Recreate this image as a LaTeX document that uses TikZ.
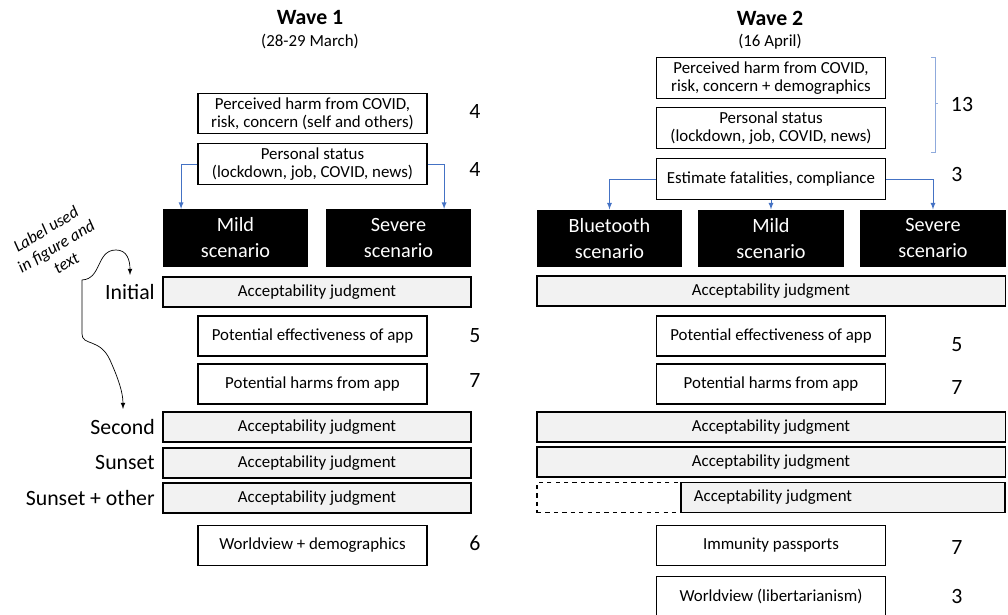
\documentclass[tikz,border=0pt]{standalone}
\usepackage{fontspec}
\setmainfont{Carlito}
\usepackage{xcolor}
\usepackage{tikz}
\usetikzlibrary{shapes, arrows, positioning, calc}
\definecolor{linkblue}{HTML}{4472C4}
\definecolor{bracketblue}{HTML}{8FAADC}
\definecolor{judgegray}{HTML}{F2F2F2}

\begin{document}
\begin{tikzpicture}[x=0.025cm, y=-0.025cm, font=\fontsize{12}{13}\selectfont]
    \tikzstyle{field}=[rectangle, draw, line width=0.8pt, minimum width=5.725cm, minimum height=1.02cm, align=center, inner sep=1pt]
    \tikzstyle{scen}=[rectangle, fill=black, text=white, minimum width=3.625cm, minimum height=1.44cm, align=center, inner sep=1pt, font=\fontsize{14.4}{18.5}\selectfont]
    \tikzstyle{judge}=[rectangle, draw, line width=0.8pt, fill=judgegray, minimum height=0.75cm, inner sep=0pt]
    \tikzstyle{num}=[font=\fontsize{15.5}{18}\selectfont]
    \tikzstyle{lbl}=[anchor=east, font=\fontsize{15.5}{18}\selectfont, inner sep=0pt]
    \tikzstyle{conn}=[draw=linkblue, line width=0.6pt, -latex]
    \useasboundingbox (0,0) rectangle (1008,615);

    % Wave 1
    \node[font=\fontsize{15.5}{18}\selectfont\bfseries] (w1title) at (310,18) {Wave 1};
    \node (w1date) at (310,42) {(28-29 March)};
    \node[field] (harm1) at (312.5,113.5) {Perceived harm from COVID,\\risk, concern (self and others)};
    \node[field] (status1) at (312.5,164) {Personal status\\(lockdown, job, COVID, news)};
    \node[scen] (mild1) at (235.5,238) {Mild\\scenario};
    \node[scen] (severe1) at (398.5,238) {Severe\\scenario};
    \node[judge, minimum width=7.7cm] (judge1a) at (317,292) {Acceptability judgment};
    \node[field, minimum height=1cm] (eff1) at (312.5,336) {Potential effectiveness of app};
    \node[field, minimum height=1cm] (harms1) at (312.5,384) {Potential harms from app};
    \node[judge, minimum width=7.7cm] (judge1b) at (317,427) {Acceptability judgment};
    \node[judge, minimum width=7.7cm] (judge1c) at (317,463) {Acceptability judgment};
    \node[judge, minimum width=7.7cm] (judge1d) at (317,498) {Acceptability judgment};
    \node[field] (world1) at (312.5,545.5) {Worldview + demographics};
    \node[num] (n1a) at (475,112) {4};
    \node[num] (n1b) at (475,170) {4};
    \node[num] (n1c) at (475,336) {5};
    \node[num] (n1d) at (475,381) {7};
    \node[num] (n1e) at (475,543) {6};
    \node[lbl] (initial) at (155,292) {Initial};
    \node[lbl] (second) at (155,427) {Second};
    \node[lbl] (sunset) at (155,463) {Sunset};
    \node[lbl] (sunsetother) at (155,498) {Sunset + other};
    \draw[conn] (status1.west) -| ([xshift=-1.36cm]mild1.north);
    \draw[conn] (status1.east) -| ([xshift=1.14cm]severe1.north);

    % label note
    \node[rotate=31, align=center, inner sep=0pt, font=\fontsize{12}{14}\selectfont\itshape] (note) at (56,246) {Label used\\in figure and\\text};
    \coordinate (fork) at (82,280);
    \coordinate (tipa) at (130,275);
    \coordinate (tipb) at (123,409);
    \draw[line width=0.5pt, -latex] (fork) .. controls (102,279) and (96,250) .. (116,250) .. controls (127,250) and (130,260) .. (tipa);
    \draw[line width=0.5pt, -latex] (fork) -- (82,334) .. controls (82,346) and (100,338) .. (110,360) .. controls (118,378) and (123,392) .. (tipb);

    % Wave 2
    \node[font=\fontsize{15.5}{18}\selectfont\bfseries] (w2title) at (770,18) {Wave 2};
    \node (w2date) at (770,42) {(16 April)};
    \node[field] (harm2) at (771,78) {Perceived harm from COVID,\\risk, concern + demographics};
    \node[field] (status2) at (771,128) {Personal status\\(lockdown, job, COVID, news)};
    \node[field] (est2) at (771,179) {Estimate fatalities, compliance};
    \node[scen] (blue2) at (609.5,238.5) {Bluetooth\\scenario};
    \node[scen] (mild2) at (771,238.5) {Mild\\scenario};
    \node[scen] (severe2) at (933,238.5) {Severe\\scenario};
    \node[judge, minimum width=11.7cm] (judge2a) at (771,291) {Acceptability judgment};
    \node[field, minimum height=1cm] (eff2) at (771,336) {Potential effectiveness of app};
    \node[field, minimum height=1cm] (harms2) at (771,384) {Potential harms from app};
    \node[judge, minimum width=11.7cm] (judge2b) at (771,427) {Acceptability judgment};
    \node[judge, minimum width=11.7cm] (judge2c) at (771,462) {Acceptability judgment};
    \node[rectangle, draw, dashed, line width=0.8pt, minimum width=3.6cm, minimum height=0.75cm] (gap2) at (609,497.5) {};
    \node[judge, minimum width=8.1cm] (judge2d) at (843,497.5) {};
    \node (judge2dtext) at (773,497.5) {Acceptability judgment};
    \node[field] (immune2) at (771,545.5) {Immunity passports};
    \node[field] (world2) at (771,597) {Worldview (libertarianism)};
    \node[num] (n2a) at (962,105) {13};
    \node[num] (n2b) at (957,175) {3};
    \node[num] (n2c) at (957,345) {5};
    \node[num] (n2d) at (957,388) {7};
    \node[num] (n2e) at (957,548) {7};
    \node[num] (n2f) at (957,597) {3};
    \draw[bracketblue, line width=0.6pt] (931,57) -- (935,57) -- (935,152) -- (931,152);
    \draw[bracketblue, line width=0.6pt] (935,103) -- (938,103);
    \draw[conn] (est2.west) -| (blue2.north);
    \draw[conn] (est2.south) -- (mild2.north);
    \draw[conn] (est2.east) -| (severe2.north);
  \end{tikzpicture}
\end{document}
